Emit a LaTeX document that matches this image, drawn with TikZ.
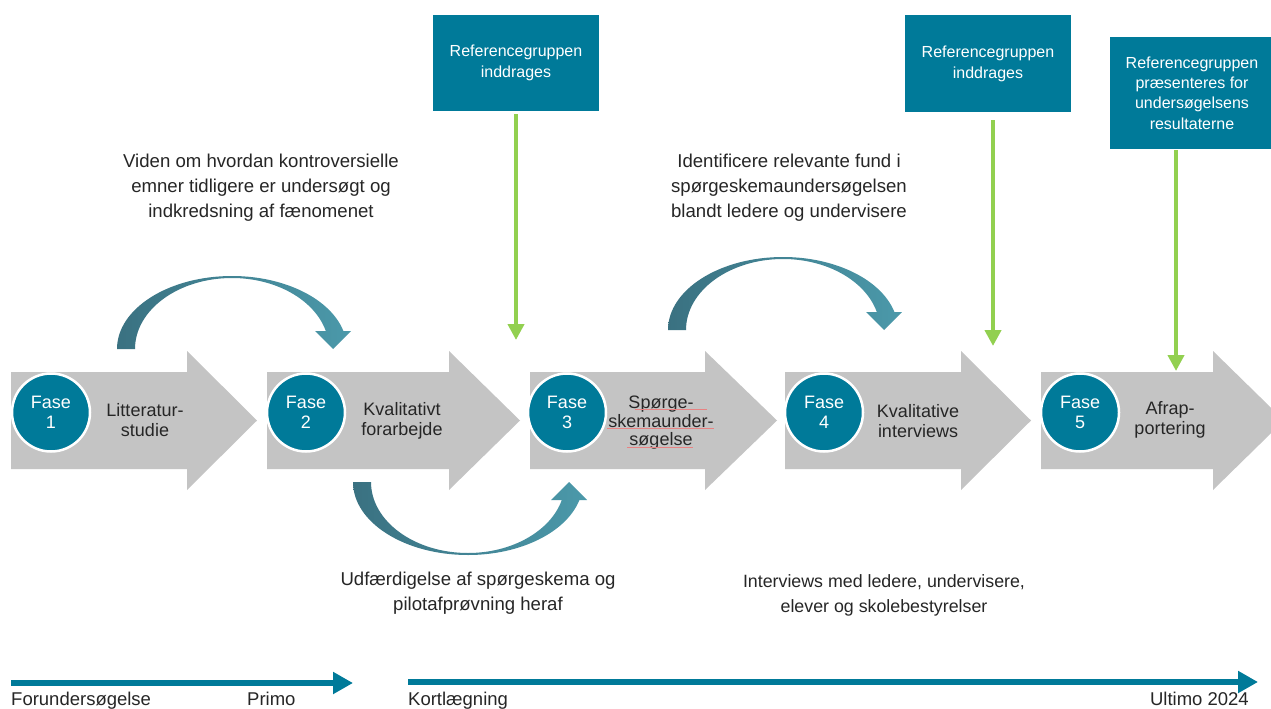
\documentclass[tikz,border=0pt]{standalone}
\usepackage{fontspec}
\setmainfont{Liberation Sans}
\usetikzlibrary{arrows.meta}
\definecolor{teal1}{RGB}{0,122,153}
\definecolor{agray}{RGB}{196,196,196}
\definecolor{cdark}{RGB}{58,113,129}
\definecolor{clight}{RGB}{75,153,170}
\definecolor{lgreen}{RGB}{146,208,80}
\definecolor{txt}{RGB}{38,38,38}
\definecolor{squig}{RGB}{232,130,130}
\newcommand\phasearrow[3]{\fill[agray] (#1,372) -- (#2,372) -- (#2,351) -- (#3,420.5) -- (#2,490) -- (#2,469) -- (#1,469) -- cycle;}
\newcommand\curvedarr{\shade[left color=cdark,right color=clight] (0,0) .. controls (0,-40.3) and (51.5,-73) .. (115,-73) .. controls (167.5,-73) and (213.4,-50.3) .. (226.4,-18) -- (234,-18) -- (216,0) -- (198,-18) -- (208.8,-18) .. controls (197.6,-49.1) and (159,-71) .. (115,-71) .. controls (61.5,-71) and (18,-39.2) .. (18,0) -- cycle;}
\tikzset{
  phasecirc/.style={circle, fill=teal1, draw=white, line width=2.5pt, minimum size=78pt, inner sep=0pt, text=white, align=center, font=\fontsize{18}{20}\selectfont},
  plabel/.style={text=txt, align=center, inner sep=0pt, font=\fontsize{18}{19.5}\selectfont},
  desc/.style={text=txt, align=center, inner sep=0pt, font=\fontsize{18.6}{25}\selectfont},
  refbox/.style={fill=teal1, text=white, align=center, inner sep=0pt, minimum width=166pt, font=\fontsize{16}{21}\selectfont},
  garrow/.style={draw=lgreen, line width=4pt, -{Triangle[length=16pt,width=16pt]}},
  tline/.style={draw=teal1, line width=6pt, -{Triangle[length=20pt,width=21pt]}},
  tlabel/.style={text=txt, inner sep=0pt, font=\fontsize{18.5}{22}\selectfont},
  squigline/.style={draw=squig, line width=0.8pt}
}
\begin{document}
\begin{tikzpicture}[x=1pt,y=-1pt]
\useasboundingbox (0,0) rectangle (1271,709);
\clip (0,0) rectangle (1271,709);
\fill[white] (0,0) rectangle (1271,709);
% phase arrows
\phasearrow{11}{187}{257}
\phasearrow{267}{449}{520}
\phasearrow{530}{705}{777}
\phasearrow{785}{961}{1031}
\phasearrow{1041}{1213}{1284}
% circles
\node[phasecirc] (f1) at (51,412.5) {Fase\\1};
\node[phasecirc] (f2) at (306,412.5) {Fase\\2};
\node[phasecirc] (f3) at (567,412.5) {Fase\\3};
\node[phasecirc] (f4) at (824,412.5) {Fase\\4};
\node[phasecirc] (f5) at (1080,412.5) {Fase\\5};
% phase labels
\node[plabel] (l1) at (145,420) {Litteratur-\\studie};
\node[plabel] (l2) at (402,421) {Kvalitativt\\forarbejde};
\node[plabel, font=\fontsize{18}{18.5}\selectfont] (l3) at (661,423) {Spørge-\\skemaunder-\\søgelse};
\node[plabel] (l4) at (918,421) {Kvalitative\\interviews};
\node[plabel] (l5) at (1170,420) {Afrap-\\portering};
\draw[squigline] (635,409) -- (707,409);
\draw[squigline] (607,428) -- (714,428);
\draw[squigline] (627,447) -- (693,447);
% curved arrows
\begin{scope}[shift={(117,349)}] \curvedarr \end{scope}
\begin{scope}[shift={(668,330)}] \curvedarr \end{scope}
\begin{scope}[shift={(353,482)},yscale=-1] \curvedarr \end{scope}
% descriptions
\node[desc] (d1) at (261,188) {Viden om hvordan kontroversielle\\emner tidligere er undersøgt og\\indkredsning af fænomenet};
\node[desc] (d2) at (789,188) {Identificere relevante fund i\\spørgeskemaundersøgelsen\\blandt ledere og undervisere};
\node[desc] (d3) at (478,593) {Udfærdigelse af spørgeskema og\\pilotafprøvning heraf};
\node[desc, font=\fontsize{17.8}{25}\selectfont] (d4) at (884,595.5) {Interviews med ledere, undervisere,\\elever og skolebestyrelser};
% reference boxes
\node[refbox, minimum height=96pt] (r1) at (516,63) {Referencegruppen\\inddrages};
\node[refbox, minimum height=97pt] (r2) at (988,63.5) {Referencegruppen\\inddrages};
\node[refbox, minimum width=164pt, minimum height=112pt, font=\fontsize{16}{20.3}\selectfont] (r3) at (1192,93) {Referencegruppen\\præsenteres for\\undersøgelsens\\resultaterne};
% green arrows
\coordinate (g1) at (516,340);
\coordinate (g2) at (993,346);
\coordinate (g3) at (1176,371);
\draw[garrow, shorten <=3pt] (g1 |- r1.south) -- (g1);
\draw[garrow, shorten <=8pt] (g2 |- r2.south) -- (g2);
\draw[garrow, shorten <=1pt] (g3 |- r3.south) -- (g3);
% timeline
\coordinate (t1s) at (11,683);
\coordinate (t1e) at (353,683);
\coordinate (t2s) at (408,682);
\coordinate (t2e) at (1258,682);
\draw[tline] (t1s) -- (t1e);
\draw[tline] (t2s) -- (t2e);
\node[tlabel, anchor=base west] (tl1) at (11,705) {Forundersøgelse};
\node[tlabel, anchor=base west] (tl2) at (247,705) {Primo};
\node[tlabel, anchor=base west] (tl3) at (408,705) {Kortlægning};
\node[tlabel, anchor=base east] (tl4) at (1249,705) {Ultimo 2024};
\end{tikzpicture}
\end{document}
